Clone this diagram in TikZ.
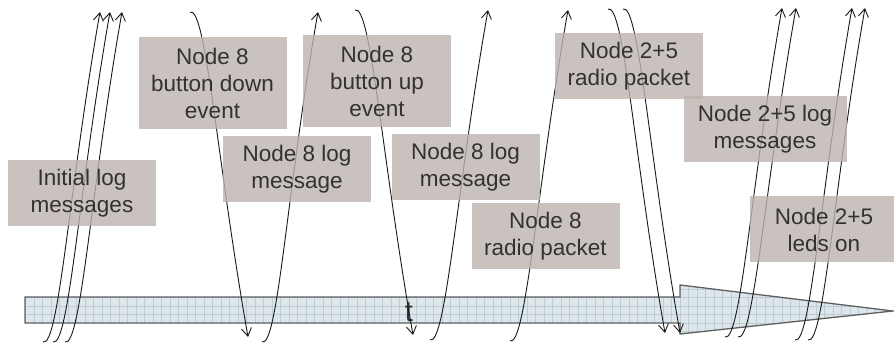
\documentclass[tikz,border=0pt]{standalone}
\usepackage{fontspec}
\setmainfont{Liberation Sans}
\usetikzlibrary{arrows.meta}
\definecolor{boxfill}{RGB}{188,179,175}
\definecolor{barfill}{RGB}{221,230,234}
\definecolor{bargrid}{RGB}{188,205,211}
\definecolor{barline}{RGB}{95,95,95}
\definecolor{txt}{RGB}{50,50,50}
\definecolor{arr}{RGB}{25,25,25}
\begin{document}
\begin{tikzpicture}[x=1pt,y=1pt,
  evbox/.style={fill=boxfill, fill opacity=0.8, text opacity=1, text=txt,
    inner sep=0pt, minimum width=148pt, minimum height=66pt, align=center,
    font=\fontsize{22.5}{27}\selectfont},
  tip/.style={-{Straight Barb[length=8pt,width=10pt]}},
  uparr/.style={draw=arr, line width=0.9pt, tip, out=-20, in=-100,
    out distance=17pt, in distance=180pt},
  downarr/.style={draw=arr, line width=0.9pt, tip, out=20, in=100,
    out distance=17pt, in distance=180pt}]
\useasboundingbox (0,0) rectangle (894,-347);

% timeline arrow
\path[fill=barfill] (25,-297) -- (680,-297) -- (680,-285) -- (893,-311)
  -- (680,-334) -- (680,-323) -- (25,-323) -- cycle;
\begin{scope}
  \clip (25,-297) -- (680,-297) -- (680,-285) -- (893,-311)
    -- (680,-334) -- (680,-323) -- (25,-323) -- cycle;
  \draw[bargrid, line width=0.6pt, xstep=8.5pt, ystep=8.5pt] (25,-340) grid (894,-280);
\end{scope}
\draw[barline, line width=1.3pt, line join=miter] (25,-297) -- (680,-297) -- (680,-285) -- (893,-311)
  -- (680,-334) -- (680,-323) -- (25,-323) -- cycle;
\node[font=\fontsize{29}{30}\selectfont, text=txt, anchor=base, inner sep=0pt] (tlab) at (409,-322) {t};

% arrow end points
\coordinate (s1) at (43,-342);  \coordinate (e1) at (100,-12);
\coordinate (s2) at (53,-342);  \coordinate (e2) at (110,-12);
\coordinate (s3) at (65,-342);  \coordinate (e3) at (122,-12);
\coordinate (s4) at (190,-12);  \coordinate (e4) at (248,-337);
\coordinate (s5) at (262,-342); \coordinate (e5) at (318,-12);
\coordinate (s6) at (355,-10);  \coordinate (e6) at (413,-335);
\coordinate (s7) at (430,-340); \coordinate (e7) at (488,-10);
\coordinate (s8) at (510,-341); \coordinate (e8) at (568,-10);
\coordinate (s9) at (608,-9);   \coordinate (e9) at (665,-333);
\coordinate (s10) at (623,-9);  \coordinate (e10) at (680,-333);
\coordinate (s11) at (725,-337); \coordinate (e11) at (782,-8);
\coordinate (s12) at (738,-337); \coordinate (e12) at (796,-8);
\coordinate (s13) at (795,-340); \coordinate (e13) at (852,-8);
\coordinate (s14) at (808,-340); \coordinate (e14) at (865,-8);

\draw[uparr] (s1) to (e1);
\draw[uparr] (s2) to (e2);
\draw[uparr] (s3) to (e3);
\draw[downarr] (s4) to (e4);
\draw[uparr] (s5) to (e5);
\draw[downarr] (s6) to (e6);
\draw[uparr] (s7) to (e7);
\draw[uparr] (s8) to (e8);
\draw[downarr] (s9) to (e9);
\draw[downarr] (s10) to (e10);
\draw[uparr] (s11) to (e11);
\draw[uparr] (s12) to (e12);
\draw[uparr] (s13) to (e13);
\draw[uparr] (s14) to (e14);

% event boxes
\node[evbox] (b1) at (82,-193) {Initial log\\messages};
\node[evbox, minimum height=92pt] (b2) at (212.5,-83) {Node 8\\button down\\event};
\node[evbox] (b3) at (297,-169) {Node 8 log\\message};
\node[evbox, minimum height=92pt] (b4) at (377,-81.5) {Node 8\\button up\\event};
\node[evbox] (b5) at (465.5,-167) {Node 8 log\\message};
\node[evbox] (b6) at (545.5,-236.5) {Node 8\\radio packet};
\node[evbox] (b7) at (629,-66.5) {Node 2+5\\radio packet};
\node[evbox, minimum width=163pt] (b8) at (765,-129.5) {Node 2+5 log\\messages};
\node[evbox] (b9) at (824,-229.5) {Node 2+5\\leds on};
\end{tikzpicture}
\end{document}
